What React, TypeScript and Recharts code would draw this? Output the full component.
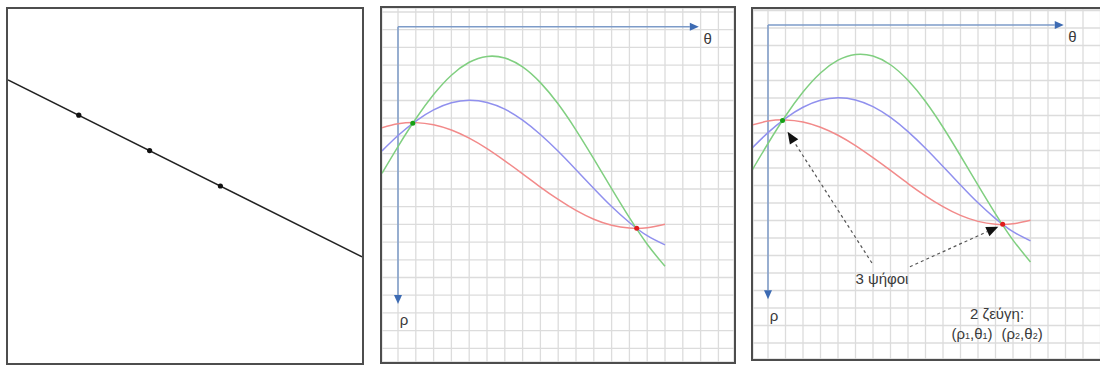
import React from 'react';
import {
  ComposedChart, LineChart, Line, XAxis, YAxis, CartesianGrid, ReferenceLine, ReferenceDot
} from 'recharts';

// image space: one straight line through three edge points (y grows downward)
const imageLine = [{ x: 0, y: 2 }, { x: 10, y: 7 }];
const imagePoints = [{ x: 2, y: 3 }, { x: 4, y: 4 }, { x: 6, y: 5 }];

// Hough space, in grid cells: θ to the right of the ρ axis, ρ downward from the top grid line
const theta = [-0.9, 0, 1, 2, 3, 4, 5, 6, 7, 8, 9, 10, 11, 12, 13, 14, 15];
const rhoRed = [6.54, 6.32, 6.25, 6.37, 6.67, 7.13, 7.72, 8.41, 9.14, 9.89, 10.59, 11.21, 11.71, 12.05, 12.21, 12.19, 11.99];
const rhoBlue = [7.85, 6.98, 6.16, 5.53, 5.13, 4.99, 5.11, 5.49, 6.11, 6.92, 7.87, 8.91, 9.97, 10.99, 11.89, 12.64, 13.16];
const rhoGreen = [9.11, 7.6, 6.03, 4.66, 3.57, 2.84, 2.51, 2.6, 3.1, 3.99, 5.2, 6.67, 8.3, 9.98, 11.62, 13.12, 14.37];

const crossings = [
  { x: 0.83, y: 6.29, color: '#15a015' },
  { x: 13.41, y: 12.22, color: '#e01c1c' },
];

const axisOrigin = { x: 0, y: 0.83 };
const thetaAxisEnd = 16.9;
const rhoAxisEnd = 16.5;

const voteArrows = [
  { from: { x: 5.94, y: 14.43 }, to: { x: 1.12, y: 6.93 } },
  { from: { x: 8.11, y: 14.64 }, to: { x: 13.16, y: 12.35 } },
];

const curveData = theta.map((t, i) => ({ t, red: rhoRed[i], blue: rhoBlue[i], green: rhoGreen[i] }));

const FONT = '"Liberation Sans", Arial, sans-serif';

const arrowShape = (head: string, stroke: string, dash: string | undefined, len: number, half: number, w: number) =>
  (p: any) => {
    const { x1, y1, x2, y2 } = p;
    const dx = x2 - x1, dy = y2 - y1;
    const d = Math.hypot(dx, dy) || 1;
    const ux = dx / d, uy = dy / d;
    const bx = x2 - ux * len, by = y2 - uy * len;
    const pts = `${x2},${y2} ${bx - uy * half},${by + ux * half} ${bx + uy * half},${by - ux * half}`;
    return (
      <g>
        <line x1={x1} y1={y1} x2={bx} y2={by} stroke={stroke} strokeWidth={w} strokeDasharray={dash} />
        <polygon points={pts} fill={head} />
      </g>
    );
  };

const textAt = (key: string, x: number, y: number, body: React.ReactNode, size = 14) => (
  <ReferenceDot
    key={key}
    x={x}
    y={y}
    r={0}
    ifOverflow="visible"
    label={{
      content: (p: any) => {
        const vb = p.viewBox || { x: 0, y: 0, width: 0, height: 0 };
        return (
          <text
            x={vb.x + vb.width / 2}
            y={vb.y + vb.height / 2}
            textAnchor="middle"
            dominantBaseline="central"
            fontFamily={FONT}
            fontSize={size}
            fill="#3a3a3a"
          >
            {body}
          </text>
        );
      },
    }}
  />
);

const boxStyle = (left: number, top: number, width: number, height: number): React.CSSProperties => ({
  position: 'absolute', left, top, width, height, border: '2px solid #4d4d4d', boxSizing: 'border-box', background: '#fff',
});

interface HoughProps {
  left: number; top: number; width: number; height: number;
  xDomain: [number, number]; yDomain: [number, number];
  xTicks: number[]; yTicks: number[];
  annotated?: boolean;
}

const HoughPanel: React.FC<HoughProps> = ({ left, top, width, height, xDomain, yDomain, xTicks, yTicks, annotated }) => (
  <div style={boxStyle(left, top, width, height)}>
    <LineChart width={width - 4} height={height - 4} data={curveData} margin={{ top: 0, right: 0, bottom: 0, left: 0 }}>
      <CartesianGrid stroke="#dcdcdc" strokeWidth={1.3} />
      <XAxis dataKey="t" type="number" domain={xDomain} ticks={xTicks} interval={0} allowDataOverflow hide />
      <YAxis type="number" domain={yDomain} ticks={yTicks} interval={0} allowDataOverflow reversed hide />
      <ReferenceLine
        segment={[axisOrigin, { x: thetaAxisEnd, y: axisOrigin.y }]}
        ifOverflow="visible"
        shape={arrowShape('#3d6bb3', '#7d9bc8', undefined, 9, 4, 1.5)}
      />
      <ReferenceLine
        segment={[axisOrigin, { x: axisOrigin.x, y: rhoAxisEnd }]}
        ifOverflow="visible"
        shape={arrowShape('#3d6bb3', '#7d9bc8', undefined, 9, 4, 1.5)}
      />
      <Line dataKey="red" type="natural" stroke="#f28a8a" strokeWidth={1.5} dot={false} isAnimationActive={false} />
      <Line dataKey="blue" type="natural" stroke="#9090ee" strokeWidth={1.5} dot={false} isAnimationActive={false} />
      <Line dataKey="green" type="natural" stroke="#80cf80" strokeWidth={1.5} dot={false} isAnimationActive={false} />
      {crossings.map((c, i) => (
        <ReferenceDot key={`c${i}`} x={c.x} y={c.y} r={2.5} fill={c.color} stroke="none" ifOverflow="visible" />
      ))}
      {textAt('theta', 17.4, 1.47, 'θ', 15)}
      {textAt('rho', 0.34, 17.4, 'ρ', 15)}
      {annotated && voteArrows.map((a, i) => (
        <ReferenceLine
          key={`a${i}`}
          segment={[a.from, a.to]}
          ifOverflow="visible"
          shape={arrowShape('#111', '#555', '3 3', 12, 5, 1.2)}
        />
      ))}
      {annotated && textAt('votes', 6.51, 15.29, '3 ψήφοι', 15)}
      {annotated && textAt('pairs', 13.09, 17.29, '2 ζεύγη:', 15)}
      {annotated && textAt('pairs2', 13.09, 18.4, (
        <>
          <tspan>(ρ</tspan>
          <tspan fontSize={9} dy={3}>1</tspan>
          <tspan dy={-3}>,θ</tspan>
          <tspan fontSize={9} dy={3}>1</tspan>
          <tspan dy={-3}>)</tspan>
          <tspan dx={9}>(ρ</tspan>
          <tspan fontSize={9} dy={3}>2</tspan>
          <tspan dy={-3}>,θ</tspan>
          <tspan fontSize={9} dy={3}>2</tspan>
          <tspan dy={-3}>)</tspan>
        </>
      ), 15)}
    </LineChart>
  </div>
);

const range = (a: number, b: number) => Array.from({ length: b - a + 1 }, (_, i) => a + i);

export default function App() {
  return (
    <div style={{ position: 'absolute', left: 0, top: 0, width: 1100, height: 367, overflow: 'hidden', background: '#fff' }}>
      <div style={boxStyle(6, 7, 358, 358)}>
        <ComposedChart width={354} height={354} margin={{ top: 0, right: 0, bottom: 0, left: 0 }}>
          <XAxis dataKey="x" type="number" domain={[0, 10]} allowDataOverflow hide />
          <YAxis type="number" domain={[0, 10]} allowDataOverflow reversed hide />
          <Line data={imageLine} dataKey="y" type="linear" stroke="#222" strokeWidth={1.5} dot={false} isAnimationActive={false} />
          {imagePoints.map((p, i) => (
            <ReferenceDot key={i} x={p.x} y={p.y} r={2.6} fill="#111" stroke="none" />
          ))}
        </ComposedChart>
      </div>
      <HoughPanel
        left={380} top={6} width={356} height={358}
        xDomain={[-0.899, 18.876]} yDomain={[-0.226, 19.774]}
        xTicks={range(0, 18)} yTicks={range(0, 19)}
      />
      <HoughPanel
        left={751} top={7} width={354} height={354}
        xDomain={[-0.857, 19.143]} yDomain={[-0.086, 19.914]}
        xTicks={range(0, 19)} yTicks={range(0, 19)}
        annotated
      />
    </div>
  );
}
